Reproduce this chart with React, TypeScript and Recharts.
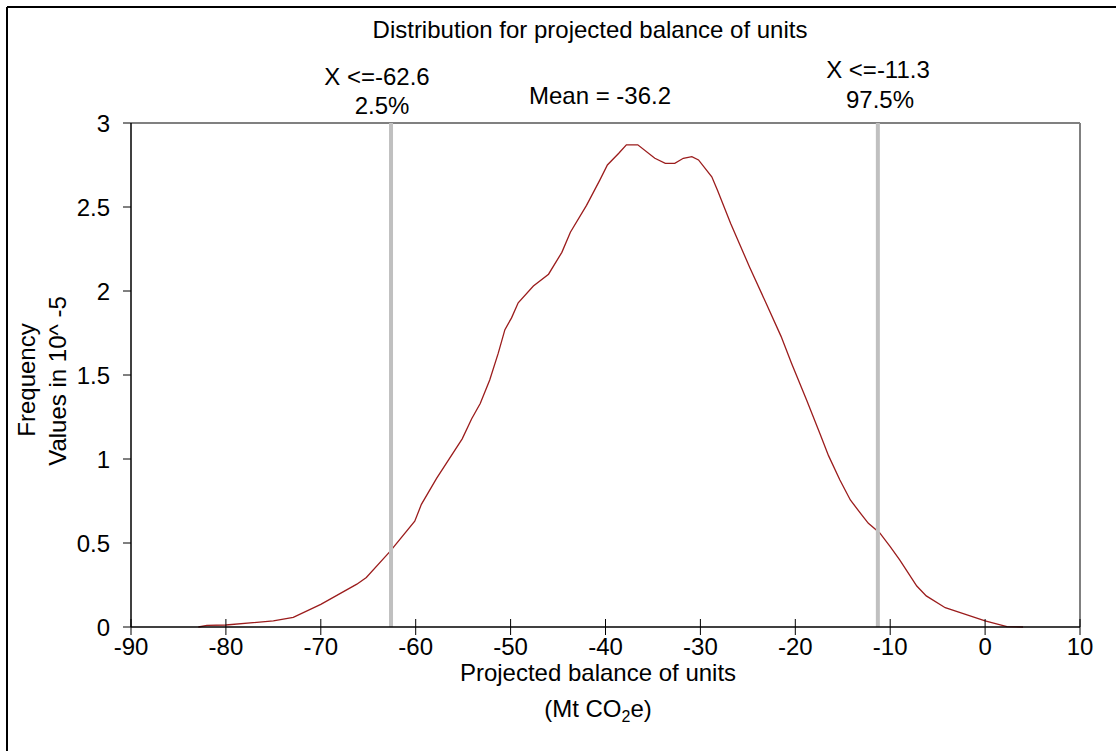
import React from 'react';
import { LineChart, Line, XAxis, YAxis, ReferenceLine } from 'recharts';

// simulated distribution, values in 10^-5
const balance = [
  -82.9, -82.0, -80.0, -75.0, -72.9, -70.0, -66.2, -65.2, -62.7, -60.1, -59.4, -57.8, -55.1, -54.1,
  -53.2, -52.2, -51.3, -50.6, -49.9, -49.2, -47.6, -46.0, -44.6, -43.7, -42.0, -40.6, -39.8, -38.6,
  -37.8, -36.6, -34.8, -33.7, -32.7, -31.8, -30.9, -30.2, -28.8, -28.2, -26.8, -24.8, -23.1, -21.5,
  -20.4, -18.8, -17.4, -16.5, -15.3, -14.2, -13.0, -12.3, -11.1, -10.0, -9.0, -7.2, -6.2, -4.2,
  -2.3, 0.0, 2.3, 4.0,
];
const frequency = [
  0, 0.01, 0.012, 0.036, 0.057, 0.135, 0.255, 0.295, 0.45, 0.63, 0.73, 0.885, 1.12, 1.24,
  1.33, 1.47, 1.63, 1.77, 1.84, 1.93, 2.03, 2.1, 2.23, 2.35, 2.51, 2.66, 2.75, 2.82,
  2.87, 2.87, 2.79, 2.76, 2.76, 2.79, 2.8, 2.78, 2.68, 2.6, 2.4, 2.14, 1.93, 1.73,
  1.57, 1.35, 1.15, 1.02, 0.875, 0.756, 0.667, 0.617, 0.56, 0.478, 0.4, 0.244, 0.185, 0.115,
  0.08, 0.036, 0.002, 0,
];
const xTicks = [-90, -80, -70, -60, -50, -40, -30, -20, -10, 0, 10];
const yTicks = [0, 0.5, 1, 1.5, 2, 2.5, 3];
const lowerCut = -62.6;
const upperCut = -11.3;

const data = balance.map((x, i) => ({ x, y: frequency[i] }));

const FONT = '"Liberation Sans", Arial, sans-serif';

function XTick(props: any) {
  const { x, y, payload } = props;
  return (
    <g>
      <line x1={x} x2={x} y1={y - 8} y2={y + 8} stroke="#000" strokeWidth={1} />
      <text x={x} y={y + 28} textAnchor="middle" fontSize={24} fill="#000" fontFamily={FONT}>
        {payload.value}
      </text>
    </g>
  );
}

export default function App() {
  return (
    <div
      style={{
        position: 'absolute', left: 0, top: 0, width: 1116, height: 751,
        overflow: 'hidden', background: '#fff', fontFamily: FONT,
      }}
    >
      <LineChart
        width={1116}
        height={751}
        data={data}
        margin={{ top: 123, right: 36, bottom: 84, left: 31 }}
      >
        <XAxis
          type="number"
          dataKey="x"
          domain={[-90, 10]}
          ticks={xTicks}
          height={40}
          tickSize={0}
          tickMargin={0}
          tickLine={false}
          axisLine={{ stroke: '#000', strokeWidth: 1.5 }}
          tick={XTick}
          allowDataOverflow
        />
        <YAxis
          type="number"
          domain={[0, 3]}
          ticks={yTicks}
          width={100}
          tickSize={8}
          tickMargin={13}
          tickLine={{ stroke: '#000' }}
          axisLine={{ stroke: '#000', strokeWidth: 1.5 }}
          tick={{ fill: '#000', fontSize: 24, fontFamily: FONT }}
        />
        <ReferenceLine y={3} stroke="#808080" strokeWidth={2} />
        <ReferenceLine x={10} stroke="#808080" strokeWidth={2} />
        <Line
          type="linear"
          dataKey="y"
          stroke="#9b1c1c"
          strokeWidth={1.3}
          dot={false}
          isAnimationActive={false}
        />
        <ReferenceLine x={lowerCut} stroke="#c0c0c0" strokeWidth={4} />
        <ReferenceLine x={upperCut} stroke="#c0c0c0" strokeWidth={4} />
      </LineChart>

      <svg
        width={1116}
        height={751}
        style={{ position: 'absolute', left: 0, top: 0, pointerEvents: 'none' }}
        fontFamily={FONT}
        fontSize={24}
        fill="#000"
      >
        <line x1={7} y1={7} x2={1116} y2={7} stroke="#000" strokeWidth={2} />
        <line x1={7} y1={7} x2={7} y2={751} stroke="#000" strokeWidth={2} />

        <text x={590} y={38} textAnchor="middle">Distribution for projected balance of units</text>

        <text x={377} y={85} textAnchor="middle">X &lt;=-62.6</text>
        <text x={382} y={114} textAnchor="middle">2.5%</text>
        <text x={600} y={104} textAnchor="middle">Mean = -36.2</text>
        <text x={878} y={78} textAnchor="middle">X &lt;=-11.3</text>
        <text x={880} y={108} textAnchor="middle">97.5%</text>

        <text transform="translate(35,380) rotate(-90)" textAnchor="middle">Frequency</text>
        <text transform="translate(66,381) rotate(-90)" textAnchor="middle">Values in 10^ -5</text>

        <text x={598} y={681} textAnchor="middle">Projected balance of units</text>
        <text x={598} y={717} textAnchor="middle">
          (Mt CO<tspan fontSize={16} dy={5}>2</tspan>
          <tspan dy={-5}>e)</tspan>
        </text>
      </svg>
    </div>
  );
}
